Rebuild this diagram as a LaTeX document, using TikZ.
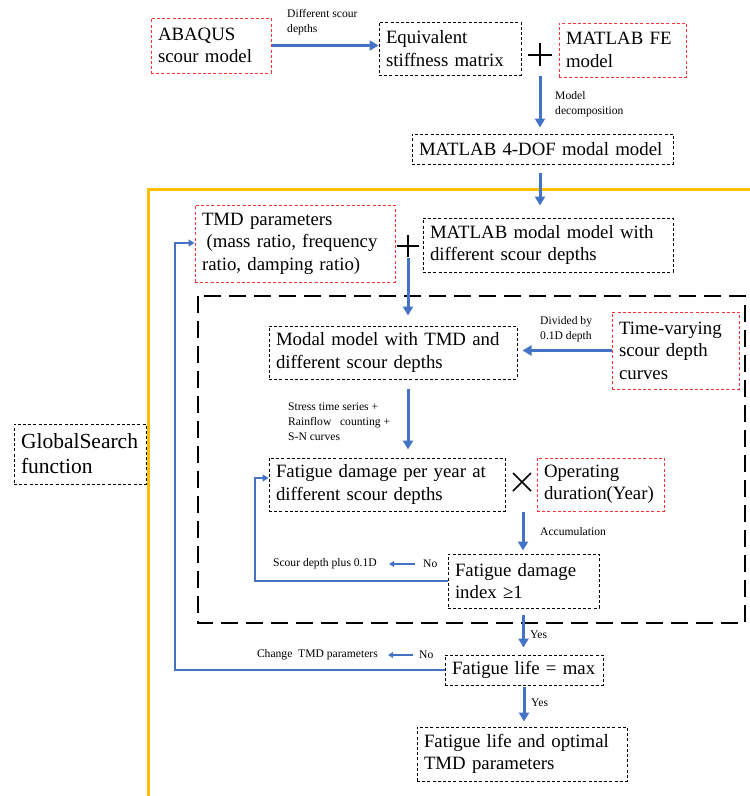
\documentclass[tikz,border=0pt]{standalone}
\usepackage{fontspec}
\setmainfont{Liberation Serif}
\usetikzlibrary{arrows.meta,calc}
\definecolor{bluec}{HTML}{4472C4}
\definecolor{orangec}{HTML}{FFC000}
\definecolor{redc}{HTML}{FF3333}
\newcommand{\mainsz}{\fontsize{18.8}{22.5}\selectfont}
\newcommand{\smallsz}{\fontsize{11.6}{15}\selectfont}
\newcommand{\bigsz}{\fontsize{21.5}{25}\selectfont}
\begin{document}
\begin{tikzpicture}[x=1pt,y=-1pt,
 bx/.style={draw=black, line width=1pt, dash pattern=on 3pt off 2.2pt, inner xsep=7pt, inner ysep=2pt, align=left, font=\mainsz},
 rbx/.style={bx, draw=redc},
 lbl/.style={inner sep=0pt, align=left, font=\smallsz, anchor=west},
 arr/.style={draw=bluec, line width=3pt, -{Triangle[length=9pt,width=10pt]}},
 looparr/.style={draw=bluec, line width=2pt, -{Triangle[length=6pt,width=7pt]}},
 sarr/.style={draw=bluec, line width=1.5pt, -{Triangle[length=5pt,width=5.5pt]}},
 sign/.style={line width=1.3pt},
]
\fill[white] (0,0) rectangle (750,796);
\useasboundingbox (0,0) rectangle (750,796);

% frames
\draw[orangec, line width=3pt] (148,800) -- (148,189) -- (752,189);
\draw[line width=2.5pt, dash pattern=on 17pt off 8pt] (198,296) rectangle (745,623);

% boxes
\node[rbx, minimum width=120pt, minimum height=55pt, text width=106pt] (abaqus) at (211,45.5) {ABAQUS\\scour model};
\node[bx, minimum width=142pt, minimum height=53pt, text width=128pt] (equiv) at (450,48.5) {Equivalent\\stiffness matrix};
\node[rbx, minimum width=127pt, minimum height=54pt, text width=113pt] (matfe) at (622.5,50) {MATLAB FE\\model};
\node[bx, minimum width=261pt, minimum height=30pt, text width=247pt] (dof) at (542.5,149) {\mbox{MATLAB 4-DOF modal model}};
\node[rbx, minimum width=200pt, minimum height=77pt, text width=186pt] (tmd) at (295,243.5) {TMD parameters\\\hspace*{0.25em}(mass ratio, frequency\\ratio, damping ratio)};
\node[bx, minimum width=250pt, minimum height=54pt, text width=236pt] (mmodal) at (548,245) {MATLAB modal model with\\different scour depths};
\node[bx, minimum width=248pt, minimum height=53pt, text width=234pt] (modal) at (393,352.5) {Modal model with TMD and\\different scour depths};
\node[rbx, minimum width=127pt, minimum height=77pt, text width=113pt] (timevar) at (675.5,350.5) {Time-varying\\scour depth\\curves};
\node[bx, minimum width=236pt, minimum height=53pt, text width=222pt] (fatig) at (387,484.5) {Fatigue damage per year at\\different scour depths};
\node[rbx, minimum width=127pt, minimum height=53pt, text width=113pt] (oper) at (600.5,484.5) {Operating\\duration(Year)};
\node[bx, minimum width=151pt, minimum height=54pt, text width=137pt] (index) at (523.5,581) {Fatigue damage\\index ≥1};
\node[bx, minimum width=158pt, minimum height=30pt, text width=144pt] (life) at (524,670) {\mbox{Fatigue life = max}};
\node[bx, minimum width=210pt, minimum height=54pt, text width=196pt] (final) at (522,754) {Fatigue life and optimal\\TMD parameters};
\node[bx, font=\bigsz, minimum width=132pt, minimum height=60pt, text width=118pt] (global) at (80,454) {GlobalSearch\\function};

% labels
\node[lbl] (l1) at (287,22.5) {Different scour\\depths};
\node[lbl] (l2) at (555,104) {Model\\decomposition};
\node[lbl] (l3) at (540,329.5) {Divided by\\0.1D depth};
\node[lbl] (l4) at (288,422) {Stress time series +\\Rainflow\ \ \ counting +\\S-N curves};
\node[lbl] (l5) at (540,532) {Accumulation};
\node[lbl] (no1) at (423,564) {No};
\node[lbl, anchor=east] (sc1) at (377,564) {Scour depth plus 0.1D};
\node[lbl] (yes1) at (530,635) {Yes};
\node[lbl] (no2) at (419,655) {No};
\node[lbl, anchor=east] (ch1) at (378,655) {Change\ \ TMD parameters};
\node[lbl] (yes2) at (531,703) {Yes};

% signs
\coordinate (p1) at (540,55);
\draw[sign] ($(p1)+(-12,0)$) -- ($(p1)+(12,0)$) ($(p1)+(0,-12)$) -- ($(p1)+(0,11)$);
\coordinate (p2) at (408,246);
\draw[sign] ($(p2)+(-11,0)$) -- ($(p2)+(11,0)$) ($(p2)+(0,-11)$) -- ($(p2)+(0,11)$);
\coordinate (x1) at (522,482);
\draw[line width=1.6pt] ($(x1)+(-9,-9)$) -- ($(x1)+(9,9)$) ($(x1)+(-9,9)$) -- ($(x1)+(9,-9)$);

% connectors
\draw[arr] (abaqus.east) -- (abaqus.east -| equiv.west);
\coordinate (p1s) at (540,76);
\draw[arr, shorten >=6pt] (p1s) -- (p1s |- dof.north);
\draw[arr, shorten <=8pt, shorten >=12pt] (dof.south -| p1s) -- (p1s |- mmodal.north);
\coordinate (p2s) at (408,258);
\draw[arr, shorten >=10pt] (p2s) -- (p2s |- modal.north);
\draw[arr, shorten >=5pt] (timevar.west) -- (timevar.west -| modal.east);
\draw[arr, shorten <=9pt, shorten >=8pt] (p2s |- modal.south) -- (p2s |- fatig.north);
\coordinate (x1s) at (523,512);
\draw[arr, shorten >=3pt] (x1s) -- (x1s |- index.north);
\draw[arr, shorten <=6pt, shorten >=7pt] (index.south) -- (index.south |- life.north);
\draw[arr, shorten <=1pt, shorten >=5pt] (life.south) -- (life.south |- final.north);

\coordinate (c1) at (255,478);
\draw[looparr] (index.west) -| (c1) -- (c1 -| fatig.west);
\coordinate (c2) at (175,243);
\draw[looparr] (life.west) -| (c2) -- (c2 -| tmd.west);

\draw[sarr, shorten <=8pt, shorten >=12pt] (no1.west) -- (sc1.east);
\draw[sarr, shorten <=6pt, shorten >=10pt] (no2.west) -- (ch1.east);
\end{tikzpicture}
\end{document}
